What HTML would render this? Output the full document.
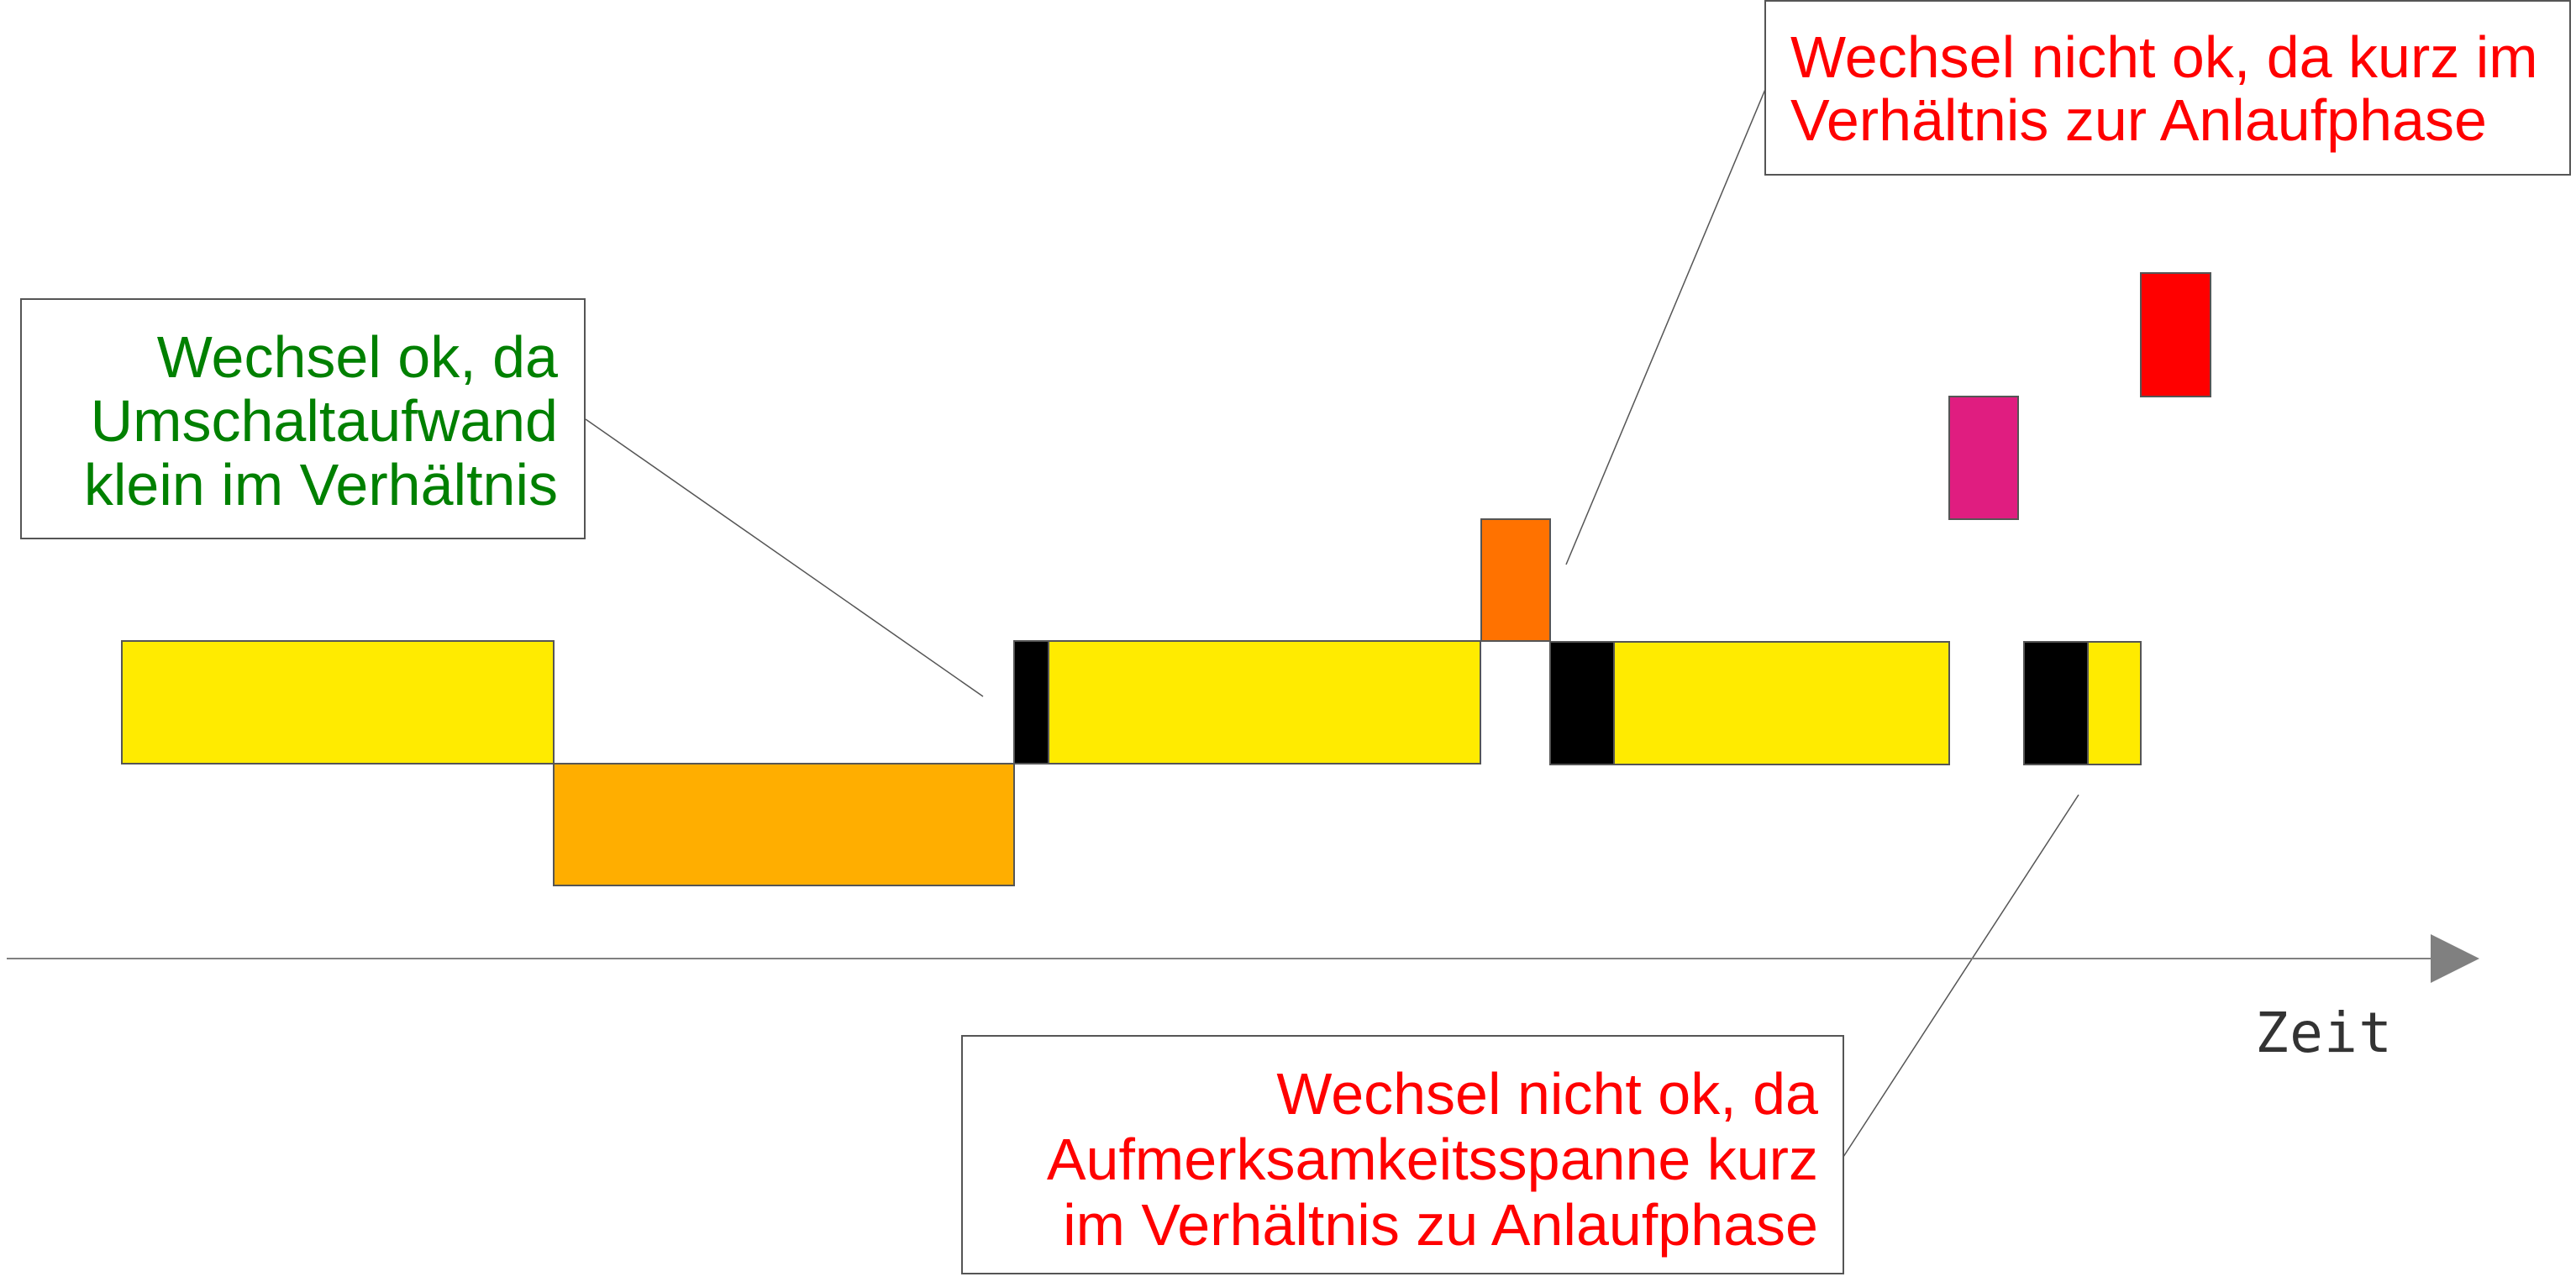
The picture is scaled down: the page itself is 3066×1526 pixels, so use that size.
<!DOCTYPE html>
<html><head><meta charset="utf-8"><style>
html,body{margin:0;padding:0;background:#fff}
svg{display:block}
</style></head><body>
<svg width="3066" height="1526" viewBox="0 0 3066 1526" xmlns="http://www.w3.org/2000/svg">
<g stroke="#555" stroke-width="2">
<rect x="145" y="763" width="514" height="146" fill="#ffeb00"/>
<rect x="659" y="909" width="548" height="145" fill="#ffae00"/>
<rect x="1207" y="763" width="41" height="146" fill="#000"/>
<rect x="1248" y="763" width="514" height="146" fill="#ffeb00"/>
<rect x="1763" y="618" width="82" height="145" fill="#ff7200"/>
<rect x="1845" y="764" width="76" height="146" fill="#000"/>
<rect x="1921" y="764" width="399" height="146" fill="#ffeb00"/>
<rect x="2320" y="472" width="82" height="146" fill="#e01d80"/>
<rect x="2548" y="325" width="83" height="147" fill="#ff0000"/>
<rect x="2409" y="764" width="76" height="146" fill="#000"/>
<rect x="2485" y="764" width="63" height="146" fill="#ffeb00"/>
</g>
<g stroke="#555" stroke-width="1.5" fill="none">
<line x1="697" y1="499" x2="1170" y2="829"/>
<line x1="2102" y1="104" x2="1864" y2="672"/>
<line x1="2474" y1="946" x2="2194" y2="1377"/>
</g>
<line x1="8" y1="1141" x2="2900" y2="1141" stroke="#808080" stroke-width="2"/>
<polygon points="2893,1112 2951,1141 2893,1170" fill="#808080"/>
<text x="2684" y="1252" font-family="'DejaVu Sans Mono','Liberation Mono',monospace" font-size="66" fill="#333" textLength="163">Zeit</text>
<rect x="25" y="356" width="671" height="285" fill="#fff" stroke="#555" stroke-width="2"/>
<g font-family="'Liberation Sans',sans-serif" font-size="70" fill="#008000" text-anchor="end">
<text x="664" y="449">Wechsel ok, da</text>
<text x="664" y="525">Umschaltaufwand</text>
<text x="664" y="601">klein im Verhältnis</text>
</g>
<rect x="2101" y="1" width="958" height="207" fill="#fff" stroke="#555" stroke-width="2"/>
<g font-family="'Liberation Sans',sans-serif" font-size="70" fill="#ff0000">
<text x="2131" y="92">Wechsel nicht ok, da kurz im</text>
<text x="2131" y="167">Verhältnis zur Anlaufphase</text>
</g>
<rect x="1145" y="1233" width="1049" height="283" fill="#fff" stroke="#555" stroke-width="2"/>
<g font-family="'Liberation Sans',sans-serif" font-size="70" fill="#ff0000" text-anchor="end">
<text x="2164" y="1326">Wechsel nicht ok, da</text>
<text x="2164" y="1404">Aufmerksamkeitsspanne kurz</text>
<text x="2164" y="1482">im Verhältnis zu Anlaufphase</text>
</g>
</svg>
</body></html>
